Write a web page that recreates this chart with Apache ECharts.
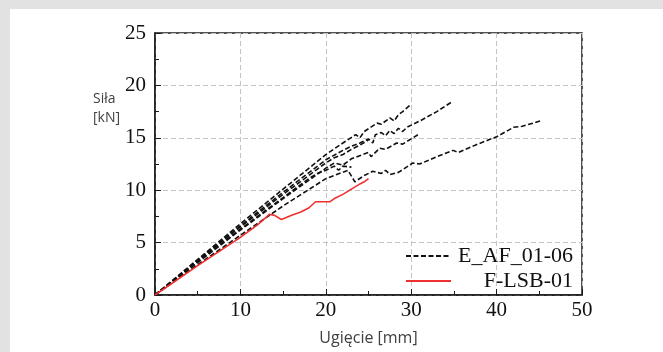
<!DOCTYPE html>
<html>
<head>
<meta charset="utf-8">
<script src="https://cdn.jsdelivr.net/npm/echarts@6/dist/echarts.min.js"></script>
<style>
  html, body { margin: 0; padding: 0; background: #e2e2e2; }
  #chart { position: absolute; left: 10px; top: 9px; width: 653px; height: 343px; background: #fff; }
</style>
</head>
<body>
<div id="chart"></div>
<script>
// deflection [mm] / force [kN]
const af01 = [[0,0],[5,3.4],[10,6.8],[15,10.1],[20,13.4],[22,14.5],[23.5,15.3],[24,15.0],[24.5,15.6],[26,16.4],[26.5,16.3],[27.5,16.9],[28,16.6],[28.5,17.2],[29,17.5],[30,18.2]];
const af02 = [[0,0],[5,3.3],[10,6.6],[15,9.8],[20,12.9],[22,13.8],[23,14.2],[24,14.5],[25,14.9],[25.5,14.5],[25.8,15.3],[26.5,15.5],[27,15.2],[27.5,15.7],[28,15.4],[28.5,15.9],[29,15.6],[29.5,16.0],[31,16.6],[33,17.5],[34.7,18.4]];
const af03 = [[0,0],[5,3.1],[10,6.2],[15,9.2],[20,12.1],[21,12.6],[22,12.4],[23,13.0],[25,13.6],[25.3,13.2],[26.3,14.0],[27,13.9],[28.3,14.5],[29,14.4],[31,15.4]];
const af04 = [[0,0],[5,2.9],[10,5.7],[15,8.5],[20,11.1],[22.6,11.9],[23.4,10.8],[24.5,11.4],[25.5,11.8],[26.5,11.6],[27,11.9],[27.5,11.5],[28.5,11.7],[30.2,12.6],[31,12.5],[33,13.2],[34.9,13.8],[35.5,13.6],[37.5,14.3],[40,15.1],[42,16.0],[43,16.1],[45.1,16.6]];
const af05 = [[0,0],[5,3.3],[10,6.5],[15,9.6],[20,12.6],[21,13.1],[22,13.4],[23,13.9],[24,14.3],[25,14.8]];
const af06 = [[0,0],[5,3.2],[10,6.3],[15,9.3],[18,11.1],[19,11.6],[20,11.9],[21,12.3],[21.5,11.9],[22,12.3],[23,12.2]];
const lsb01 = [[0,0],[5,2.8],[10,5.5],[12,6.7],[13.4,7.7],[14,7.6],[14.8,7.2],[16,7.6],[17,7.9],[18,8.3],[18.8,8.9],[20,8.9],[20.5,8.9],[21,9.2],[22,9.6],[23,10.1],[24,10.6],[24.5,10.8],[25,11.1]];

const afCurves = [af01, af02, af03, af04, af05, af06];
const afName = "E_AF_01-06";
const lsbName = "F-LSB-01";

const serif = "'Liberation Serif', 'DejaVu Serif', serif";
const sans = "'Open Sans', 'Noto Sans', sans-serif";

const chart = echarts.init(document.getElementById("chart"));

const series = afCurves.map((d) => ({
  name: afName,
  type: "line",
  data: d,
  showSymbol: false,
  symbol: "none",
  silent: true,
  lineStyle: { color: "#111", width: 1.6, type: [5, 2.5] },
  itemStyle: { color: "#111" },
}));
series.push({
  name: lsbName,
  type: "line",
  data: lsb01,
  showSymbol: false,
  symbol: "none",
  silent: true,
  lineStyle: { color: "#f03030", width: 1.6 },
  itemStyle: { color: "#f03030" },
});

chart.setOption({
  animation: false,
  title: {
    text: "Siła\n[kN]",
    left: 78,
    top: 76,
    textStyle: { fontFamily: sans, fontSize: 14, fontWeight: "normal", color: "#404040", lineHeight: 19 },
  },
  grid: {
    left: 145, right: 81, top: 24, bottom: 57,
    show: true, borderColor: "#1a1a1a", borderWidth: 1.5,
  },
  legend: {
    data: [afName, lsbName],
    orient: "vertical",
    left: 390,
    top: 231,
    itemWidth: 45,
    itemHeight: 14,
    itemGap: 3,
    itemStyle: { opacity: 0 },
    formatter: (n) => "{t|" + n + "}",
    textStyle: {
      rich: { t: { width: 117, align: "right", fontFamily: serif, fontSize: 22, color: "#111", lineHeight: 22 } },
    },
  },
  xAxis: {
    type: "value",
    min: 0, max: 50, interval: 10,
    name: "Ugięcie [mm]",
    nameLocation: "middle",
    nameGap: 35,
    nameTextStyle: { fontFamily: sans, fontSize: 16, color: "#404040" },
    axisLine: { lineStyle: { color: "#1a1a1a", width: 1.5 } },
    axisTick: { inside: true, length: 6, lineStyle: { color: "#1a1a1a" } },
    minorTick: { show: true, splitNumber: 2, length: 4, lineStyle: { color: "#1a1a1a" } },
    axisLabel: { fontFamily: serif, fontSize: 21, color: "#111", margin: 5 },
    splitLine: { show: true, lineStyle: { color: "#c4c4c4", type: [5, 3], width: 1 } },
  },
  yAxis: {
    type: "value",
    min: 0, max: 25, interval: 5,
    axisLine: { show: true, lineStyle: { color: "#1a1a1a", width: 1.5 } },
    axisTick: { show: true, inside: true, length: 6, lineStyle: { color: "#1a1a1a" } },
    minorTick: { show: true, splitNumber: 2, length: 4, lineStyle: { color: "#1a1a1a" } },
    axisLabel: { fontFamily: serif, fontSize: 21, color: "#111", margin: 9 },
    splitLine: { show: true, lineStyle: { color: "#c4c4c4", type: [5, 3], width: 1 } },
  },
  series: series,
});

window.addEventListener("resize", () => chart.resize());
</script>
</body>
</html>
